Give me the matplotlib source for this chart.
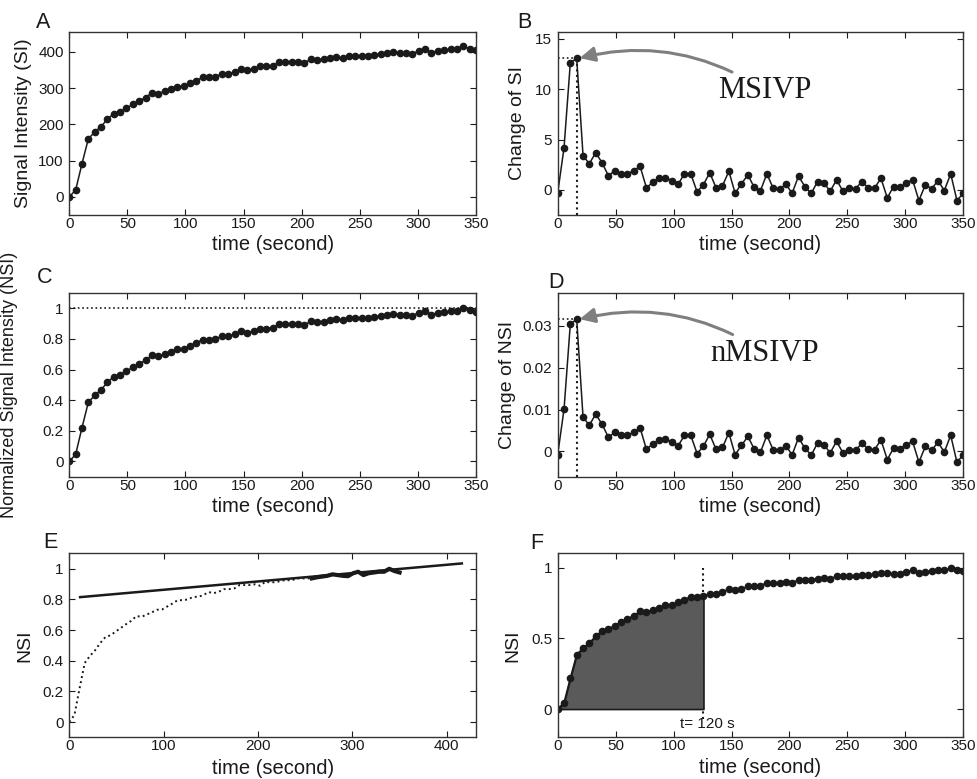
import matplotlib
matplotlib.use('Agg')
from matplotlib import pyplot as plt
import numpy as np

# sample times (s)
time = [0, 5.5, 10.9, 16.4, 21.9, 27.3, 32.8, 38.3, 43.8, 49.2,
        54.7, 60.2, 65.6, 71.1, 76.6, 82.0, 87.5, 93.0, 98.4, 103.9,
        109.4, 114.8, 120.3, 125.8, 131.2, 136.7, 142.2, 147.7, 153.1, 158.6,
        164.1, 169.5, 175.0, 180.5, 185.9, 191.4, 196.9, 202.3, 207.8, 213.3,
        218.8, 224.2, 229.7, 235.2, 240.6, 246.1, 251.6, 257.0, 262.5, 268.0,
        273.4, 278.9, 284.4, 289.8, 295.3, 300.8, 306.2, 311.7, 317.2, 322.7,
        328.1, 333.6, 339.1, 344.5, 350.0]

# signal intensity (panel A)
si = [0, 19, 91, 160, 179, 194, 214, 230, 235, 245,
      255, 265, 274, 287, 285, 291, 297, 304, 305, 313,
      321, 330, 330, 332, 339, 339, 344, 352, 349, 353,
      360, 360, 362, 371, 371, 371, 373, 369, 380, 378,
      379, 382, 385, 383, 389, 389, 389, 389, 392, 394,
      396, 400, 398, 396, 395, 403, 407, 398, 403, 405,
      407, 407, 415, 409, 405]

# change of SI (panel B)
dsi = [-0.33, 4.2, 12.6, 13.1, 3.4, 2.6, 3.7, 2.7, 1.4, 1.9,
       1.6, 1.6, 1.9, 2.35, 0.2, 0.76, 1.16, 1.2, 0.93, 0.56,
       1.6, 1.6, -0.2, 0.53, 1.7, 0.2, 0.4, 1.85, -0.33, 0.6,
       1.5, 0.26, -0.07, 1.6, 0.17, 0.1, 0.56, -0.33, 1.36, 0.33,
       -0.36, 0.83, 0.66, -0.13, 1.0, -0.13, 0.17, 0.1, 0.83, 0.2,
       0.17, 1.16, -0.8, 0.33, 0.26, 0.66, 1.0, -1.06, 0.5, 0.1,
       0.93, -0.07, 1.6, -1.06, -0.33]

# linear fit of the late phase (panel E)
fit_time = [11.5, 416]
fit_nsi = [0.815, 1.035]

peak_idx = 3       # maximum SI change
tail_start = 47    # first sample used for the fit in E
auc_end = 23       # last sample of the shaded area in F

t = np.array(time)
si = np.array(si, dtype=float)
dsi = np.array(dsi, dtype=float)
nsi = si / si.max()
dnsi = dsi / si.max()

plt.rcParams['font.family'] = ['Liberation Sans', 'DejaVu Sans']
plt.rcParams['xtick.direction'] = 'in'
plt.rcParams['ytick.direction'] = 'in'
plt.rcParams['xtick.top'] = True
plt.rcParams['ytick.right'] = True
plt.rcParams['xtick.major.size'] = 4
plt.rcParams['ytick.major.size'] = 4
plt.rcParams['xtick.labelsize'] = 11
plt.rcParams['ytick.labelsize'] = 11
plt.rcParams['axes.linewidth'] = 1.0

ink = '#1a1a1a'
fig = plt.figure(figsize=(9.77, 7.79), dpi=100)

L1, L2 = 0.0709, 0.5708
W1, W2 = 0.4163, 0.4152
ax_a = fig.add_axes([L1, 0.724, W1, 0.235])
ax_b = fig.add_axes([L2, 0.724, W2, 0.235])
ax_c = fig.add_axes([L1, 0.388, W1, 0.236])
ax_d = fig.add_axes([L2, 0.388, W2, 0.236])
ax_e = fig.add_axes([L1, 0.0535, W1, 0.236])
ax_f = fig.add_axes([L2, 0.0535, W2, 0.236])

ticks350 = [0, 50, 100, 150, 200, 250, 300, 350]


def setup(ax, letter, lpos, ylabel, ylab_x, xlab_y, yticks, ylabels, ylim,
          xticks=ticks350, xlim=(0, 350), ysize=14):
    ax.set_xlim(*xlim)
    ax.set_ylim(*ylim)
    ax.set_xticks(xticks)
    ax.set_xticklabels([str(v) for v in xticks])
    ax.set_yticks(yticks)
    ax.set_yticklabels(ylabels)
    ax.set_xlabel('time (second)', fontsize=14.5, color=ink)
    ax.xaxis.set_label_coords(0.5, xlab_y)
    ax.set_ylabel(ylabel, fontsize=ysize, color=ink, va='center')
    ax.yaxis.set_label_coords(ylab_x, 0.5)
    ax.tick_params(axis='x', colors=ink, pad=1.5)
    ax.tick_params(axis='y', colors=ink, pad=4)
    for s in ax.spines.values():
        s.set_color('#333333')
    ax.text(lpos[0], lpos[1], letter, transform=ax.transAxes,
            fontsize=15.5, color=ink, va='baseline')


def dots(ax, y):
    ax.plot(t, y, '-', color=ink, lw=1.1, marker='o', ms=4.5,
            mfc=ink, mec=ink)


def callout(ax, text, tip, pos):
    ax.annotate(text, xy=tip, xytext=pos, textcoords='axes fraction',
                ha='center', va='center', fontsize=22,
                family='Liberation Serif', color=ink,
                arrowprops=dict(arrowstyle='-|>,head_length=0.45,head_width=0.22',
                                mutation_scale=20, color='#7f7f7f', lw=2.2,
                                connectionstyle='arc3,rad=0.22',
                                shrinkA=2, shrinkB=0))


# A
dots(ax_a, si)
setup(ax_a, 'A', (-0.082, 1.02), 'Signal Intensity (SI)', -0.113, -0.11,
      [0, 100, 200, 300, 400], ['0', '100', '200', '300', '400'], (-50, 455))

# B
dots(ax_b, dsi)
ax_b.plot([0, t[peak_idx]], [dsi[peak_idx]] * 2, ':', color=ink, lw=1.2)
ax_b.plot([t[peak_idx]] * 2, [-2.5, dsi[peak_idx]], ':', color=ink, lw=1.5)
callout(ax_b, 'MSIVP', (t[peak_idx] + 2.5, dsi[peak_idx]), (0.51, 0.68))
setup(ax_b, 'B', (-0.1, 1.02), 'Change of SI', -0.099, -0.11,
      [0, 5, 10, 15], ['0', '5', '10', '15'], (-2.5, 15.7))

# C
dots(ax_c, nsi)
ax_c.axhline(1, color=ink, ls=':', lw=1.2)
setup(ax_c, 'C', (-0.079, 1.053), 'Normalized Signal Intensity (NSI)', -0.148,
      -0.11, [0, 0.2, 0.4, 0.6, 0.8, 1], ['0', '0.2', '0.4', '0.6', '0.8', '1'],
      (-0.1, 1.1), ysize=13)

# D
dots(ax_d, dnsi)
ax_d.plot([0, t[peak_idx]], [dnsi[peak_idx]] * 2, ':', color=ink, lw=1.2)
ax_d.plot([t[peak_idx]] * 2, [-0.006, dnsi[peak_idx]], ':', color=ink, lw=1.5)
callout(ax_d, 'nMSIVP', (t[peak_idx] + 2.5, dnsi[peak_idx]), (0.51, 0.673))
setup(ax_d, 'D', (-0.024, 1.026), 'Change of NSI', -0.123, -0.11,
      [0, 0.01, 0.02, 0.03], ['0', '0.01', '0.02', '0.03'],
      (-2.5 / si.max(), 15.7 / si.max()))

# E
ax_e.plot(t, nsi, ':', color=ink, lw=1.4)
ax_e.plot(fit_time, fit_nsi, '-', color=ink, lw=1.8)
ax_e.plot(t[tail_start:], nsi[tail_start:], '-', color=ink, lw=3)
setup(ax_e, 'E', (-0.065, 1.03), 'NSI', -0.108, -0.12,
      [0, 0.2, 0.4, 0.6, 0.8, 1], ['0', '0.2', '0.4', '0.6', '0.8', '1'],
      (-0.1, 1.1), xticks=[0, 100, 200, 300, 400], xlim=(0, 431))

# F
ax_f.plot([t[auc_end]] * 2, [-0.07, 1.0], ':', color=ink, lw=1.5, zorder=1)
ax_f.fill_between(t[:auc_end + 1], 0, nsi[:auc_end + 1], facecolor='#5a5a5a',
                  edgecolor=ink, lw=1.2, zorder=2)
dots(ax_f, nsi)
ax_f.text(t[auc_end] + 3, -0.105, 't= 120 s', ha='center', va='center',
          fontsize=11, color=ink)
setup(ax_f, 'F', (-0.068, 1.026), 'NSI', -0.111, -0.11,
      [0, 0.5, 1], ['0', '0.5', '1'], (-0.2, 1.1))

fig.savefig('out.png', dpi=100)
